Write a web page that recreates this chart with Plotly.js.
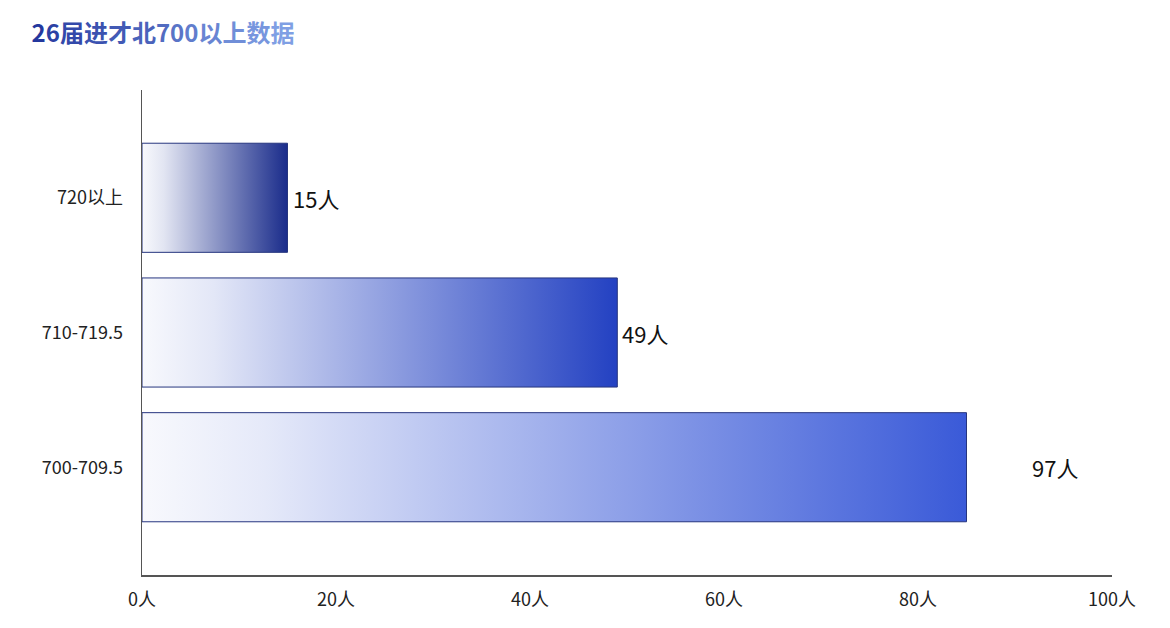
<!DOCTYPE html>
<html>
<head>
<meta charset="utf-8">
<script src="https://cdn.plot.ly/plotly-3.0.1.min.js"></script>
<style>
  body { margin: 0; background: #fff; }
  #chart { width: 1170px; height: 628px; }
</style>
</head>
<body>
<div id="chart"></div>
<script>
// data (bottom to top)
let categories = ["700-709.5", "710-719.5", "720以上"];
let counts = [97, 49, 15];          // numbers printed on the labels
let drawnLength = [85, 49, 15];     // bar length as it appears in the snapshot
let barColors = ["#3a5ad8", "#2341c2", "#1a2c8b"];
let titleText = "26届进才北700以上数据";

// per character colour so the title fades dark -> light blue
function mix(a, b, t) {
    let pa = [1, 3, 5].map(i => parseInt(a.substr(i, 2), 16));
    let pb = [1, 3, 5].map(i => parseInt(b.substr(i, 2), 16));
    return "rgb(" + pa.map((v, i) => Math.round(v + (pb[i] - v) * t)).join(",") + ")";
}
let chars = Array.from(titleText);
let fancyTitle = chars.map((c, i) =>
    "<span style='color:" + mix("#24389e", "#7f9fe4", i / (chars.length - 1)) + "'>" + c + "</span>"
).join("");

let half = 0.405;
let traces = categories.map((cat, i) => {
    let v = drawnLength[i];
    return {
        type: "scatter",
        mode: "lines",
        x: [0, v, v, 0, 0],
        y: [i - half, i - half, i + half, i + half, i - half],
        fill: "toself",
        fillgradient: {
            type: "horizontal",
            colorscale: [[0, "#f8f9fd"], [0.15, mix("#f8f9fd", barColors[i], 0.1)], [1, barColors[i]]]
        },
        line: { color: "#26357f", width: 1 },
        hoverinfo: "skip",
        showlegend: false,
        name: cat
    };
});

// value labels, the last one sits further right like in the picture
let labelX = [91.8, drawnLength[1], drawnLength[2]];
let annotations = categories.map((cat, i) => ({
    x: labelX[i], y: i,
    xref: "x", yref: "y",
    text: counts[i] + "人",
    showarrow: false,
    xanchor: "left",
    xshift: i == 0 ? -2 : 3,
    font: { family: "Noto Sans CJK SC, Noto Sans, sans-serif", size: 22, color: "#111" }
}));

let layout = {
    width: 1170, height: 628,
    margin: { l: 142, r: 58, t: 90, b: 53 },
    paper_bgcolor: "#fff",
    plot_bgcolor: "#fff",
    font: { family: "Noto Sans CJK SC, Noto Sans, sans-serif", color: "#222" },
    title: {
        text: "<b>" + fancyTitle + "</b>",
        x: 0.027, xanchor: "left",
        y: 0.947, yanchor: "middle",
        font: { size: 24, family: "Noto Sans CJK SC, sans-serif" }
    },
    xaxis: {
        range: [0, 100],
        dtick: 20,
        ticksuffix: "人",
        showgrid: false,
        zeroline: false,
        showline: true,
        linecolor: "#555",
        linewidth: 1.5,
        ticks: "",
        ticklabelstandoff: 8,
        tickfont: { size: 18, color: "#222" },
        fixedrange: true
    },
    yaxis: {
        range: [-0.8, 2.8],
        tickvals: [0, 1, 2],
        ticktext: categories,
        showgrid: false,
        zeroline: false,
        showline: true,
        linecolor: "#555",
        linewidth: 1.5,
        ticks: "",
        ticklabelstandoff: 14,
        tickfont: { size: 18, color: "#222" },
        fixedrange: true
    },
    annotations: annotations
};

Plotly.newPlot("chart", traces, layout, { displayModeBar: false, staticPlot: true });
</script>
</body>
</html>
